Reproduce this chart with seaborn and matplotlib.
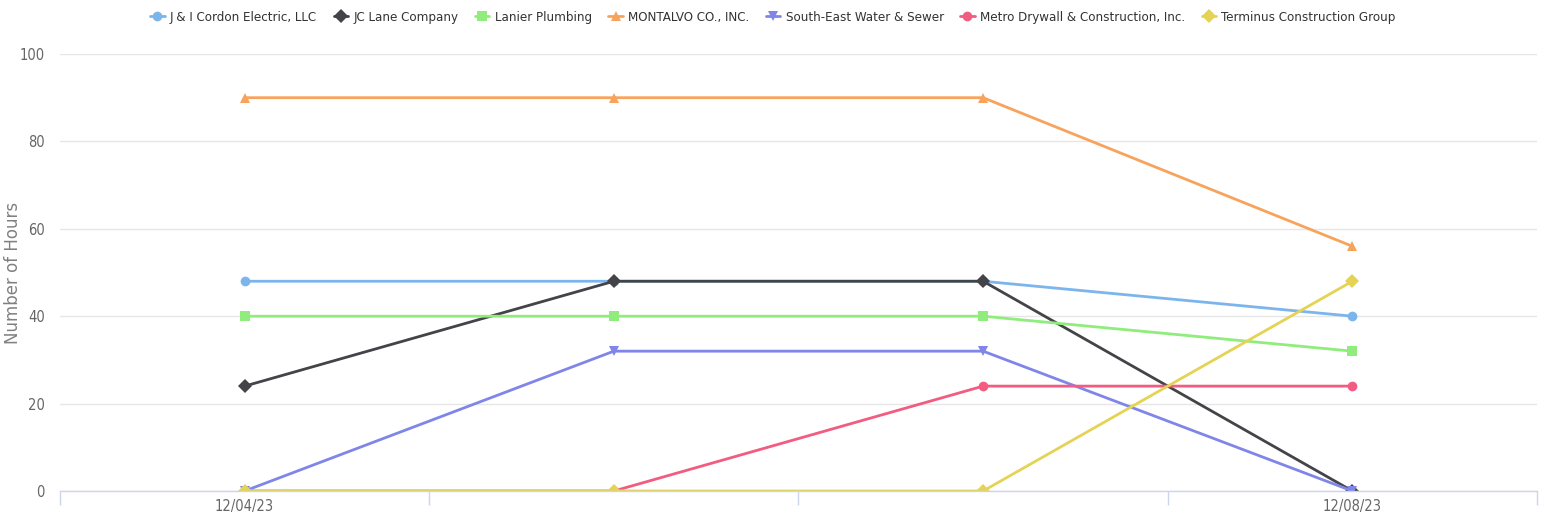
import pandas as pd
import numpy as np
import matplotlib.pyplot as plt
import seaborn as sns

dates = ["12/04/23", "12/05/23", "12/06/23", "12/08/23"]
shown_dates = ["12/04/23", "", "", "12/08/23"]

companies = [
    "J & I Cordon Electric, LLC",
    "JC Lane Company",
    "Lanier Plumbing",
    "MONTALVO CO., INC.",
    "South-East Water & Sewer",
    "Metro Drywall & Construction, Inc.",
    "Terminus Construction Group",
]

ji_cordon = [48, 48, 48, 40]
jc_lane = [24, 48, 48, 0]
lanier = [40, 40, 40, 32]
montalvo = [90, 90, 90, 56]
south_east = [0, 32, 32, 0]
metro = [0, 0, 24, 24]
terminus = [0, 0, 0, 48]

colors = ["#7cb5ec", "#434348", "#90ed7d", "#f7a35c", "#8085e9", "#f15c80", "#e4d354"]
marker_shapes = ["o", "D", "s", "^", "v", "o", "D"]

series = [ji_cordon, jc_lane, lanier, montalvo, south_east, metro, terminus]
rows = []
for name, vals in zip(companies, series):
    for i, v in enumerate(vals):
        rows.append({"company": name, "x": i, "hours": v})
df = pd.DataFrame(rows)

sns.set_theme(style="white")
plt.rcParams["font.family"] = ["DejaVu Sans"]
plt.rcParams["font.stretch"] = "condensed"

fig = plt.figure(figsize=(15.46, 5.25), dpi=100)
ax = fig.add_axes([60 / 1546, 34 / 525, 1477 / 1546, 437 / 525])

sns.lineplot(
    data=df, x="x", y="hours", hue="company", style="company",
    hue_order=companies, style_order=companies,
    palette=dict(zip(companies, colors)),
    markers=dict(zip(companies, marker_shapes)),
    dashes=False, linewidth=2, markersize=7, markeredgewidth=0,
    ax=ax, legend=False,
)

ax.set_xlim(-0.5, 3.5)
ax.set_ylim(0, 100)
ax.set_yticks(np.arange(0, 101, 20))
ax.yaxis.grid(True, color="#e6e6e6", linewidth=1)
ax.set_axisbelow(True)
for side in ["top", "right", "left"]:
    ax.spines[side].set_visible(False)
ax.spines["bottom"].set_color("#ccd6eb")
ax.spines["bottom"].set_linewidth(1)

ax.set_xticks(np.arange(-0.5, 3.6, 1.0), minor=False)
ax.set_xticklabels([])
ax.set_xticks(range(len(dates)), minor=True)
ax.set_xticklabels(shown_dates, minor=True)
ax.tick_params(axis="x", which="major", length=10, color="#ccd6eb", width=1, direction="out", bottom=True)
ax.tick_params(axis="x", which="minor", length=0, labelsize=10.5, labelcolor="#666666", pad=6)
ax.tick_params(axis="y", length=0, labelsize=10.5, labelcolor="#666666", pad=11)

ax.set_xlabel("")
ax.set_ylabel("Number of Hours", fontsize=12, color="#808080", fontstretch="normal")
ax.yaxis.set_label_coords(-0.026, 0.5)

handles = [
    plt.Line2D([], [], color=c, marker=m, linewidth=2, markersize=7, markeredgewidth=0)
    for c, m in zip(colors, marker_shapes)
]
fig.legend(
    handles, companies, loc="center", bbox_to_anchor=(0.5, 1 - 17 / 525), ncol=7,
    frameon=False, fontsize=9.5, handlelength=1.1, handletextpad=0.4, columnspacing=1.25,
    labelcolor="#333333",
)

fig.savefig("out.png", dpi=100)
